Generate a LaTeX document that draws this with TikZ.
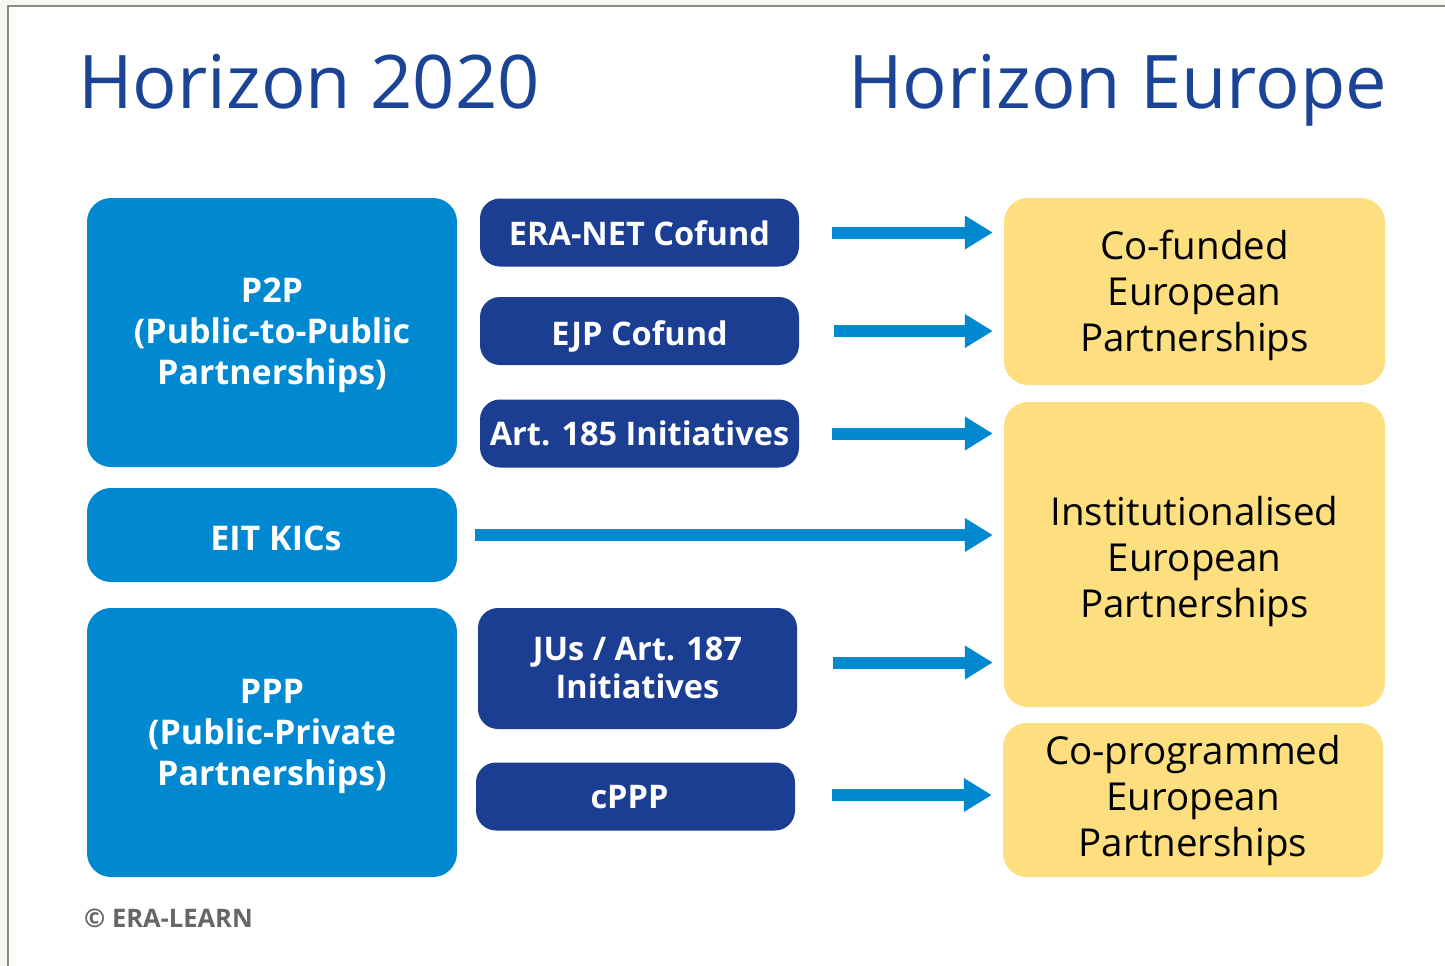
\documentclass[tikz,border=0pt]{standalone}
\usepackage{fontspec}
\setmainfont{Open Sans}
\usetikzlibrary{arrows.meta}
\definecolor{lblue}{HTML}{0088D1}
\definecolor{dblue}{HTML}{1B3E92}
\definecolor{tblue}{HTML}{1C4496}
\definecolor{yell}{HTML}{FEDF80}
\definecolor{offw}{HTML}{F8F8F3}
\definecolor{frame}{HTML}{8A8A8A}
\definecolor{copy}{HTML}{666666}
\tikzset{
  lbox/.style={fill=lblue, rounded corners=24pt, text=white, font=\fontsize{34}{41}\selectfont\bfseries, align=center, inner sep=0pt},
  dbox/.style={fill=dblue, rounded corners=20pt, text=white, font=\fontsize{32.5}{38}\selectfont\bfseries, align=center, inner sep=0pt},
  ybox/.style={fill=yell, rounded corners=24pt, text=black, font=\fontsize{38.5}{46}\selectfont, align=center, inner sep=0pt},
  title/.style={text=tblue, font=\fontsize{74}{80}\selectfont, inner sep=0pt, anchor=base west},
  arr/.style={draw=lblue, line width=12pt, -{Triangle[length=28pt,width=32pt]}},
}
\begin{document}
\begin{tikzpicture}[x=1pt,y=-1pt]
\useasboundingbox (0,0) rectangle (1445,966);
\fill[offw] (0,0) rectangle (1445,966);
\fill[white] (8,6) rectangle (1445,966);
\draw[frame, line width=1.5pt] (8,966) -- (8,6) -- (1445,6);
% titles
\node[title] (t1) at (78,108) {Horizon 2020};
\node[title] (t2) at (848,108) {Horizon Europe};
% left boxes
\path[lbox] (87,198) rectangle (457,467);
\node[lbox, fill=none] (p2p) at (272,335) {P2P\\(Public-to-Public\\Partnerships)};
\path[lbox] (87,488) rectangle (457,582);
\node[lbox, fill=none] (eit) at (276,538) {EIT KICs};
\coordinate (eitE) at (457,535);
\path[lbox] (87,608) rectangle (457,877);
\node[lbox, fill=none] (ppp) at (272,736) {PPP\\(Public-Private\\Partnerships)};
% middle boxes
\node[dbox, minimum width=319pt, minimum height=68pt] (era) at (639.5,232.5) {};
\node[dbox, fill=none] at ([yshift=-1pt]era.center) {ERA-NET Cofund};
\node[dbox, minimum width=319pt, minimum height=68pt] (ejp) at (639.5,331) {};
\node[dbox, fill=none] at ([yshift=-5pt]ejp.center) {EJP Cofund};
\node[dbox, minimum width=319pt, minimum height=68pt] (art185) at (639.5,433.5) {};
\node[dbox, fill=none] at ([yshift=0pt]art185.center) {Art. 185 Initiatives};
\node[dbox, minimum width=319pt, minimum height=121pt] (jus) at (637.5,668.5) {};
\node[dbox, fill=none] at ([yshift=1pt]jus.center) {JUs / Art. 187\\Initiatives};
\node[dbox, minimum width=319pt, minimum height=68pt] (cppp) at (635.5,796.5) {};
\node[dbox, fill=none] at ([yshift=-1pt, xshift=-6pt]cppp.center) {cPPP};
% right boxes
\node[ybox, minimum width=381pt, minimum height=187pt] (cof) at (1194.5,291.5) {};
\node[ybox, fill=none] at ([yshift=-4pt]cof.center) {Co-funded\\European\\Partnerships};
\node[ybox, minimum width=381pt, minimum height=305pt] (inst) at (1194.5,554.5) {};
\node[ybox, fill=none] at ([yshift=-7pt]inst.center) {Institutionalised\\European\\Partnerships};
\node[ybox, minimum width=380pt, minimum height=154pt] (cop) at (1193,800) {};
\node[ybox, fill=none] at ([yshift=0pt]cop.center) {Co-programmed\\European\\Partnerships};
% arrows
\draw[arr, shorten <=33pt, shorten >=11pt] (era.east) -- (era.east -| cof.west);
\draw[arr, shorten <=35pt, shorten >=11pt] (ejp.east) -- (ejp.east -| cof.west);
\draw[arr, shorten <=33pt, shorten >=11pt] (art185.east) -- (art185.east -| inst.west);
\draw[arr, shorten <=18pt, shorten >=11pt] (eitE) -- (eitE -| inst.west);
\draw[arr, shorten <=36pt, shorten >=11pt] ([yshift=6pt]jus.east) -- ([yshift=6pt]jus.east -| inst.west);
\draw[arr, shorten <=37pt, shorten >=11pt] ([yshift=1.5pt]cppp.east) -- ([yshift=1.5pt]cppp.east -| cop.west);
% copyright
\node[text=copy, font=\fontsize{25.5}{28}\selectfont\bfseries, anchor=base west, inner sep=0pt] (copy) at (84,927) {© ERA-LEARN};
\end{tikzpicture}
\end{document}
